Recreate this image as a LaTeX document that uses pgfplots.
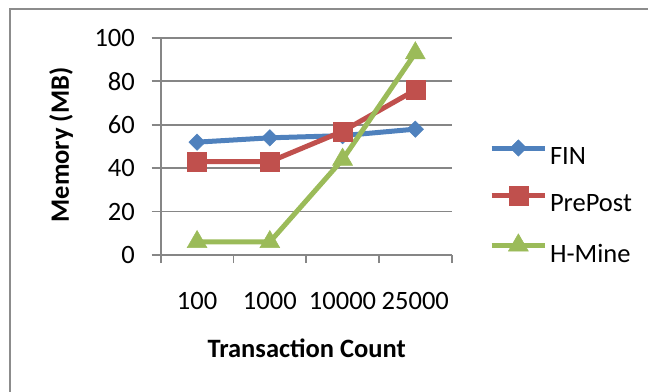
\documentclass[border=0pt]{standalone}
\usepackage{pgfplots}
\pgfplotsset{compat=1.18}
\usepackage{fontspec}
\setmainfont{Carlito}
\definecolor{cblue}{HTML}{4F81BD}
\definecolor{cred}{HTML}{C0504D}
\definecolor{cgreen}{HTML}{9BBB59}
\definecolor{cgrid}{HTML}{868686}
\definecolor{cframe}{HTML}{8C8C8C}
\newcommand{\bigf}{\fontsize{26.5bp}{31bp}\selectfont}
\begin{document}
\begin{tikzpicture}
\draw[cframe, line width=2bp] (9.5bp,0bp) -- (9.5bp,383.2bp) -- (648bp,383.2bp);
\begin{axis}[
  at={(160.7bp,137bp)}, anchor=south west,
  scale only axis, width=291bp, height=217bp,
  xmin=-0.5, xmax=3.5, ymin=0, ymax=100,
  axis x line*=bottom, axis y line*=left,
  axis line style={cgrid, line width=1.8bp},
  xtick={0,1,2,3}, xticklabels={100,1000,10000,25000},
  minor xtick={-0.5,0.5,1.5,2.5,3.5},
  ytick={0,20,40,60,80,100},
  tick align=outside,
  major tick length=9bp, minor tick length=8bp,
  tick style={cgrid, line width=1.8bp},
  x tick style={draw=none},
  minor x tick style={draw=cgrid, line width=1.8bp},
  ymajorgrids, grid style={cgrid, line width=1.8bp},
  /pgf/number format/assume math mode=true,
  tick label style={font=\bigf},
  yticklabel style={anchor=east, inner sep=0pt, xshift=-16.7bp},
  xticklabel style={anchor=north, inner sep=0pt, yshift=-28bp},
  xlabel={Transaction Count}, ylabel={Memory (MB)},
  label style={font=\bigf\bfseries},
  xlabel style={at={(axis description cs:0.5017,-0.4286)}, anchor=center},
  ylabel style={at={(axis description cs:-0.3426,0.5069)}, anchor=center, rotate=0},
  clip=false,
  legend style={at={(axis description cs:1.1289,0.2456)}, anchor=west,
    draw=none, fill=none, inner sep=0pt, outer sep=0pt,
    row sep=20.5bp, column sep=2.5bp,
    nodes={inner sep=0pt, anchor=west, font=\bigf}},
  legend cell align=left,
  legend image code/.code={\draw[mark repeat=2,mark phase=2,#1] plot coordinates {(0bp,8.4bp) (26.65bp,8.4bp) (53.3bp,8.4bp)};},
]
\addplot[cblue, line width=5bp, mark=square*, mark size=5.8bp, mark options={rotate=45, solid, fill=cblue, line width=0.5bp}]
  coordinates {(0,52) (1,54) (2,55) (3,58)};
\addlegendentry{FIN}
\addplot[cred, line width=5bp, mark=square*, mark size=9.5bp, mark options={solid, fill=cred, line width=0.5bp}]
  coordinates {(0,43) (1,43) (2,57) (3,76)};
\addlegendentry{PrePost}
\addplot[cgreen, line width=5bp, mark=triangle*, mark size=11.5bp, mark options={solid, fill=cgreen, line width=0.5bp}]
  coordinates {(0,6) (1,6) (2,44) (3,93)};
\addlegendentry{H-Mine}
\end{axis}
\pgfresetboundingbox
\useasboundingbox (0bp,0bp) rectangle (648bp,392bp);
\end{tikzpicture}
\end{document}
